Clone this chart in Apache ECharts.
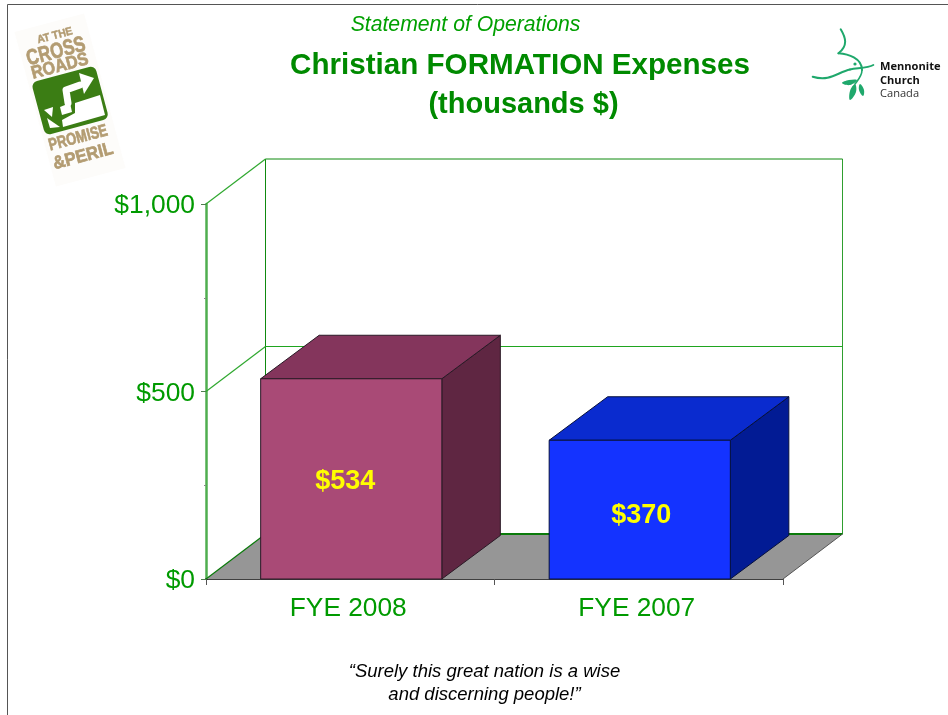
<!DOCTYPE html>
<html>
<head>
<meta charset="utf-8">
<style>html,body{margin:0;padding:0;background:#fff}#c{width:948px;height:715px}</style>
<script src="https://cdn.jsdelivr.net/npm/echarts@6/dist/echarts.min.js"></script>
</head>
<body>
<div id="c"></div>
<script>
const categories = ['FYE 2008', 'FYE 2007'];
const expenses = [534, 370];
const valueLabels = ['$534', '$370'];
const wallTicks = [0, 500, 1000];
const yTickLabels = { 0: '$0', 500: '$500', 1000: '$1,000' };
const subtitleText = 'Statement of Operations';
const titleLines = ['Christian FORMATION Expenses', '(thousands $)'];
const captionLines = ['\u201CSurely this great nation is a wise', 'and discerning people!\u201D'];

const DX = 59.5, DY = -45;
const BAR_DX = 58.5, BAR_DY = -43.5;
const FONT = '"Liberation Sans", Arial, sans-serif';
const TAN = '#b39c72', SIGN = '#3b7d14', DOVE = '#1fa86c';
const faces = [
  { front: '#a94a76', top: '#84355c', side: '#5f2642', edge: '#2a1a26' },
  { front: '#1433ff', top: '#0a2bcf', side: '#021b94', edge: '#06103c' }
];
const labelShiftX = [-6, 1.5];
const labelShiftY = [3, 6];

const chart = echarts.init(document.getElementById('c'), null, { renderer: 'canvas' });

function poly(points, style) {
  return { type: 'polygon', shape: { points }, style };
}
function line(x1, y1, x2, y2, stroke, lineWidth) {
  return { type: 'line', shape: { x1, y1, x2, y2 }, style: { stroke, lineWidth, fill: null } };
}

function renderWall(params, api) {
  const cs = params.coordSys;
  const v = api.value(0);
  const y = api.coord([0, v])[1];
  const left = cs.x, right = cs.x + cs.width;
  const kids = [];
  if (v === 0) {
    const top = api.coord([0, 1000])[1] + DY;
    kids.push(poly([[left, y], [left + DX, y + DY], [right + DX, y + DY], [right, y]],
      { fill: '#969696', stroke: null }));
    kids.push(line(left + DX, top, left + DX, y + DY, '#0f8a0f', 1));
    kids.push(line(right + DX, top, right + DX, y + DY, '#2f9f2f', 1));
    kids.push(line(left + DX, y + DY, right + DX, y + DY, '#0a7a0a', 2));
    kids.push(line(left, y, left + DX, y + DY, '#0a7a0a', 1.2));
    kids.push(line(right, y, right + DX, y + DY, '#555555', 1));
  } else {
    kids.push(line(left, y, left + DX, y + DY, '#2fa82f', 1.2));
    kids.push(line(left + DX, y + DY, right + DX, y + DY, v === 1000 ? '#0f8a0f' : '#1fa51f', 1));
  }
  return { type: 'group', children: kids };
}

function renderBar(params, api) {
  const i = api.value(0);
  const v = api.value(1);
  const base = api.coord([i, 0]);
  const topP = api.coord([i, v]);
  const w = api.size([1, 0])[0] * 0.628;
  const x0 = base[0] - w / 2 + 1, x1 = x0 + w;
  const y0 = topP[1], y1 = base[1];
  const c = faces[i];
  const stroke = { stroke: c.edge, lineWidth: 1 };
  return {
    type: 'group',
    children: [
      poly([[x1, y0], [x1 + BAR_DX, y0 + BAR_DY], [x1 + BAR_DX, y1 + BAR_DY], [x1, y1]], { fill: c.side, ...stroke }),
      poly([[x0, y0], [x0 + BAR_DX, y0 + BAR_DY], [x1 + BAR_DX, y0 + BAR_DY], [x1, y0]], { fill: c.top, ...stroke }),
      { type: 'rect', shape: { x: x0, y: y0, width: w, height: y1 - y0 }, style: { fill: c.front, ...stroke } },
      {
        type: 'text',
        style: {
          x: (x0 + x1) / 2 + labelShiftX[i], y: (y0 + y1) / 2 + labelShiftY[i],
          text: valueLabels[i], fill: '#ffff00',
          font: 'bold 27px ' + FONT, align: 'center', verticalAlign: 'middle'
        }
      }
    ]
  };
}

function txt(x, y, text, font, fill, align, scaleX, heavy) {
  const style = { text, font, fill, align: align || 'center', verticalAlign: 'middle' };
  if (heavy) { style.stroke = fill; style.lineWidth = heavy; }
  return { type: 'text', x, y, z: 20, scaleX: scaleX || 1, style };
}
function gpoly(points, fill, smooth) {
  return { type: 'polygon', z: 12, shape: { points, smooth: smooth || 0 }, style: { fill } };
}
function gline(points, stroke, lineWidth) {
  return { type: 'polyline', z: 12, shape: { points },
    style: { stroke, lineWidth, fill: null, lineCap: 'round', lineJoin: 'round' } };
}
function curve(x1, y1, cpx1, cpy1, cpx2, cpy2, x2, y2, lineWidth) {
  return { type: 'bezierCurve', z: 12, shape: { x1, y1, cpx1, cpy1, cpx2, cpy2, x2, y2 },
    style: { stroke: DOVE, lineWidth, fill: null, lineCap: 'round' } };
}

const crossroadsLogo = [
  { type: 'group', x: 70, y: 100, rotation: 15 * Math.PI / 180, z: 10, children: [
    { type: 'rect', z: 10, shape: { x: -36, y: -80, width: 72, height: 160 }, style: { fill: '#fdfcfa' } },
    { type: 'rect', z: 11, shape: { x: -33, y: -27, width: 66, height: 55, r: 6 }, style: { fill: SIGN } },
    txt(2, -66, 'AT THE', 'bold 11px ' + FONT, TAN, 'center', 0.93, 0.5),
    txt(-1, -50, 'CROSS', 'bold 22px ' + FONT, TAN, 'center', 0.77, 0.7),
    txt(-1, -35, 'ROADS', 'bold 18px ' + FONT, TAN, 'center', 0.9, 0.7),
    txt(-2, 39, 'PROMISE', 'bold 17px ' + FONT, TAN, 'center', 0.77, 0.7),
    txt(-2, 58, '&PERIL', 'bold 18px ' + FONT, TAN, 'center', 0.93, 0.7)
  ] },
  gpoly([[75, 103], [100, 95], [105, 115], [63, 127], [62, 120], [75, 113]], '#ffffff'),
  gline([[68, 103], [66, 90], [80, 85]], '#ffffff', 7),
  gpoly([[94, 78], [79, 73], [84, 94]], '#ffffff'),
  gpoly([[44, 110], [53, 107], [52, 117]], '#ffffff'),
  gpoly([[47, 118], [60, 127], [50, 128]], '#ffffff'),
  gpoly([[60, 107], [70, 103], [72, 112], [62, 115]], '#ffffff')
];

const mennoniteLogo = [
  curve(840.7, 29.3, 846, 38, 848, 46, 838.5, 53.3, 2),
  curve(838.5, 53.3, 848, 54, 862, 58, 862, 70, 2),
  curve(862, 70, 862, 76, 858, 80, 855, 84, 1.6),
  curve(812.7, 76.7, 830, 82, 838, 72, 850, 69.5, 2),
  curve(850, 69.5, 858, 68, 868, 68, 873.3, 65, 2),
  gpoly([[842, 83], [849, 80], [857, 80], [850, 85]], DOVE, 0.4),
  gpoly([[850, 100], [850, 91], [855, 84], [856, 92]], DOVE, 0.4),
  gpoly([[863, 96], [859, 90], [860, 84], [864, 90]], DOVE, 0.4),
  { type: 'circle', z: 12, shape: { cx: 855, cy: 64, r: 1.6 }, style: { fill: DOVE } },
  txt(880, 67, 'Mennonite', 'bold 11.1px "Open Sans", sans-serif', '#111111', 'left'),
  txt(880, 80.5, 'Church', 'bold 11.1px "Open Sans", sans-serif', '#111111', 'left'),
  txt(880, 93.5, 'Canada', '11.1px "Open Sans", sans-serif', '#333333', 'left')
];

const frame = [
  { type: 'polyline', z: 1, shape: { points: [[7.5, 715], [7.5, 4.5], [948, 4.5]] },
    style: { stroke: '#555555', lineWidth: 1, fill: null } }
];

const textBlocks = [
  txt(465.5, 25, subtitleText, 'italic 21.2px ' + FONT, '#00a000'),
  txt(520, 66, titleLines[0], 'bold 29.6px ' + FONT, '#008a00'),
  txt(523.5, 105, titleLines[1], 'bold 29px ' + FONT, '#008a00'),
  txt(484.5, 672, captionLines[0], 'italic 18.5px ' + FONT, '#000000'),
  txt(484.5, 695, captionLines[1], 'italic 18.5px ' + FONT, '#000000')
];

chart.setOption({
  animation: false,
  backgroundColor: '#ffffff',
  grid: { left: 206, top: 204, width: 577, height: 375, containLabel: false },
  xAxis: {
    type: 'category',
    data: categories,
    axisLine: { show: true, lineStyle: { color: '#000000', width: 1.5 } },
    axisTick: { show: true, alignWithLabel: false, length: 6, lineStyle: { color: '#555555', width: 1 } },
    axisLabel: { color: '#009a00', fontSize: 26.3, fontFamily: FONT, margin: 17, padding: [0, 4, 0, 0] },
    splitLine: { show: false }
  },
  yAxis: {
    type: 'value',
    min: 0, max: 1000, interval: 500,
    axisLine: { show: true, lineStyle: { color: '#4fae4f', width: 2.5 } },
    axisTick: { show: true, length: 5, lineStyle: { color: '#4d7d4d', width: 1 } },
    minorTick: { show: true, splitNumber: 2, length: 2, lineStyle: { color: '#888888' } },
    axisLabel: {
      color: '#009a00', fontSize: 26.4, fontFamily: FONT, margin: 11,
      verticalAlign: 'top', lineHeight: 4,
      formatter: v => yTickLabels[v]
    },
    splitLine: { show: false }
  },
  series: [
    {
      type: 'custom', name: 'Walls', coordinateSystem: 'cartesian2d',
      silent: true, z: 1, clip: false,
      renderItem: renderWall,
      encode: { x: -1, y: 0 },
      data: wallTicks.map(v => [v])
    },
    {
      type: 'custom', name: 'Expenses', coordinateSystem: 'cartesian2d',
      z: 3, clip: false,
      renderItem: renderBar,
      encode: { x: 0, y: 1 },
      data: expenses.map((v, i) => [i, v])
    }
  ],
  graphic: { elements: [...frame, ...crossroadsLogo, ...mennoniteLogo, ...textBlocks] }
});
</script>
</body>
</html>
